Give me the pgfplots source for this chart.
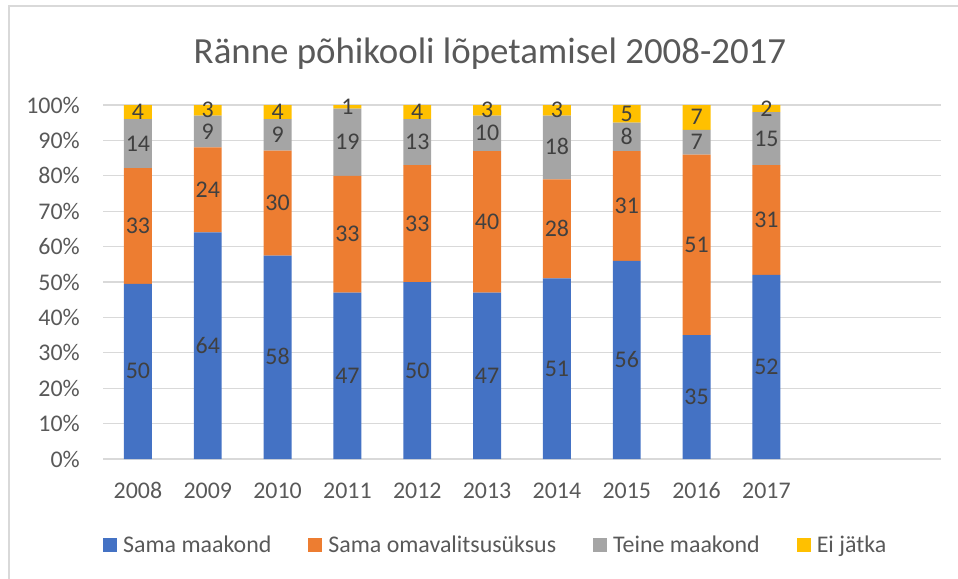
\documentclass[border=0pt]{standalone}
\usepackage{pgfplots}
\pgfplotsset{compat=1.18}
\usepackage{pgfplotstable}
\usepackage{fontspec}
\setmainfont{Carlito}
\definecolor{cblue}{HTML}{4472C4}
\definecolor{corange}{HTML}{ED7D31}
\definecolor{cgray}{HTML}{A5A5A5}
\definecolor{cyellow}{HTML}{FFC000}
\definecolor{gridc}{HTML}{D9D9D9}
\definecolor{txt}{HTML}{595959}
\definecolor{lbl}{HTML}{404040}

\pgfplotstableread{
x b o g y
0 49.50 32.67 13.86 3.96
1 64 24 9 3
2 57.43 29.70 8.91 3.96
3 47 33 19 1
4 50 33 13 4
5 47 40 10 3
6 51 28 18 3
7 56 31 8 5
8 35 51 7 7
9 52 31 15 2
}\bardata

\pgfplotstableread{
x y lab
0 24.75 50
0 65.84 33
0 89.10 14
0 98.01 4
1 32 64
1 76 24
1 92.5 9
1 98.5 3
2 28.71 58
2 72.28 30
2 91.58 9
2 98.02 4
3 23.5 47
3 63.5 33
3 89.5 19
3 99.5 1
4 25 50
4 66.5 33
4 89.5 13
4 98 4
5 23.5 47
5 67 40
5 92 10
5 98.5 3
6 25.5 51
6 65 28
6 88 18
6 98.5 3
7 28 56
7 71.5 31
7 91 8
7 97.5 5
8 17.5 35
8 60.5 51
8 89.5 7
8 96.5 7
9 26 52
9 67.5 31
9 90.5 15
9 99 2
}\labdata

\pgfplotsset{
  sqlegend/.style={legend image code/.code={\fill[##1] (0bp,-7bp) rectangle (14bp,7bp);}},
  common/.style={
    scale only axis, width=838bp, height=354bp,
    at={(103bp,-459bp)}, anchor=south west,
    xmin=-0.5, xmax=11.5, ymin=0, ymax=100,
  }
}

\begin{document}
\begin{tikzpicture}
\useasboundingbox (0,0) rectangle (958bp,-579bp);
\draw[gridc, line width=1.5bp] (9bp,-6bp) rectangle (975bp,-592bp);
\node[anchor=base, text=txt, font=\fontsize{37}{44}\selectfont, inner sep=0pt] at (490bp,-63bp) {Ränne põhikooli lõpetamisel 2008-2017};
\begin{axis}[common,
  ybar stacked, bar width=0.4,
  axis line style={draw=none}, tick style={draw=none},
  ymajorgrids, major grid style={gridc, line width=1.3bp},
  ytick={0,10,...,100},
  yticklabels={0\%,10\%,20\%,30\%,40\%,50\%,60\%,70\%,80\%,90\%,100\%},
  xtick={0,...,9},
  xticklabels={2008,2009,2010,2011,2012,2013,2014,2015,2016,2017},
  ticklabel style={font=\fontsize{24}{29}\selectfont, text=txt, inner sep=0pt},
  yticklabel style={anchor=base east, yshift=-8bp, xshift=-23bp},
  xticklabel style={anchor=base, yshift=-39bp},
  legend style={at={(0,-0.243)}, anchor=west, draw=none, fill=none,
    legend columns=4, inner sep=0pt, font=\fontsize{24}{29}\selectfont, text=txt,
    nodes={inner sep=0pt},
    /tikz/every odd column/.append style={column sep=6bp},
    /tikz/every even column/.append style={column sep=37bp}},
  legend cell align=left,
]
\addplot[fill=cblue, draw=none, sqlegend] table[x=x,y=b]{\bardata};
\addplot[fill=corange, draw=none, sqlegend] table[x=x,y=o]{\bardata};
\addplot[fill=cgray, draw=none, sqlegend] table[x=x,y=g]{\bardata};
\addplot[fill=cyellow, draw=none, sqlegend] table[x=x,y=y]{\bardata};
\legend{Sama maakond, Sama omavalitsusüksus, Teine maakond, Ei jätka}
\end{axis}
\begin{axis}[common, hide axis, clip=false]
\addplot[only marks, mark=none, point meta=explicit symbolic,
  nodes near coords,
  every node near coord/.append style={anchor=base, yshift=-7.5bp, inner sep=0pt, text=lbl, font=\fontsize{24}{29}\selectfont}]
  table[x=x,y=y,meta=lab]{\labdata};
\end{axis}
\end{tikzpicture}
\end{document}
